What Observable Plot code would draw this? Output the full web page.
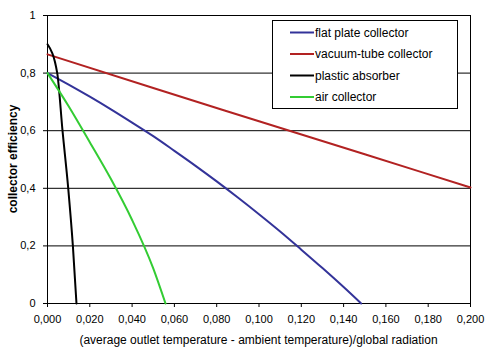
<!DOCTYPE html>
<html>
<head>
<meta charset="utf-8">
<script src="https://cdn.jsdelivr.net/npm/d3@7"></script>
<script src="https://cdn.jsdelivr.net/npm/@observablehq/plot@0.6"></script>
<style>
  html, body { margin: 0; padding: 0; background: #fff; }
  #chart { width: 493px; height: 359px; }
</style>
</head>
<body>
<div id="chart"></div>
<script>
// ---- data ----
const seriesNames = ["flat plate collector", "vacuum-tube collector", "plastic absorber", "air collector"];
const seriesColors = ["#333399", "#B22222", "#000000", "#33CC33"];

const flatX = [0, 0.01, 0.02, 0.03, 0.04, 0.05, 0.06, 0.07, 0.08, 0.09, 0.10, 0.11, 0.12, 0.13, 0.14, 0.1483];
const flatY = [0.800, 0.760, 0.718, 0.674, 0.628, 0.581, 0.530, 0.478, 0.424, 0.368, 0.310, 0.250, 0.187, 0.123, 0.057, 0.0];

const vacX = [0, 0.05, 0.10, 0.15, 0.2];
const vacY = [0.865, 0.748, 0.633, 0.518, 0.403];

const plasticX = [0, 0.0046, 0.0071, 0.0098, 0.0120, 0.0137];
const plasticY = [0.90, 0.80, 0.60, 0.40, 0.20, 0.0];

const airX = [0, 0.01, 0.02, 0.03, 0.04, 0.05, 0.0558];
const airY = [0.80, 0.685, 0.560, 0.432, 0.290, 0.122, 0.0];

const xTicks = [0, 0.02, 0.04, 0.06, 0.08, 0.10, 0.12, 0.14, 0.16, 0.18, 0.20];
const yTicks = [0, 0.2, 0.4, 0.6, 0.8, 1];

const xLabel = "(average outlet temperature - ambient temperature)/global radiation";
const yLabel = "collector efficiency";

// ---- build table ----
const rows = [];
[[flatX, flatY], [vacX, vacY], [plasticX, plasticY], [airX, airY]].forEach(([xs, ys], i) => {
  xs.forEach((x, j) => rows.push({series: seriesNames[i], x, y: ys[j]}));
});

const fmtX = d => d.toFixed(3).replace(".", ",");
const fmtY = d => (d === 0 ? "0" : d === 1 ? "1" : String(+d.toFixed(1)).replace(".", ","));

const font = "'Liberation Sans', Arial, sans-serif";
const W = 493, H = 359, mL = 47, mR = 23, mT = 15, mB = 56;

const chart = Plot.plot({
  width: W, height: H,
  marginLeft: mL, marginRight: mR, marginTop: mT, marginBottom: mB,
  style: {fontFamily: font, fontSize: "11px", color: "#000", background: "#fff", overflow: "visible"},
  x: {domain: [0, 0.2], label: null},
  y: {domain: [0, 1], label: null},
  color: {domain: seriesNames, range: seriesColors},
  marks: [
    Plot.ruleY(yTicks.slice(1), {stroke: "#000", strokeWidth: 1}),
    Plot.frame({stroke: "#000", strokeWidth: 1}),
    Plot.axisX({ticks: xTicks, tickFormat: fmtX, tickSize: 4, tickPadding: 8, label: null, stroke: "#000", fill: "#000"}),
    Plot.axisY({ticks: yTicks, tickFormat: fmtY, tickSize: 4, tickPadding: 8, label: null, stroke: "#000", fill: "#000"}),
    Plot.line(rows, {x: "x", y: "y", z: "series", stroke: "series", strokeWidth: 2, curve: "monotone-x"})
  ]
});

document.getElementById("chart").appendChild(chart);

// ---- axis titles and legend ----
const svg = d3.select(chart);
svg.append("text")
  .attr("x", (mL + W - mR) / 2).attr("y", 344)
  .attr("text-anchor", "middle")
  .attr("font-family", font).attr("font-size", 12).attr("fill", "#000")
  .text(xLabel);
svg.append("text")
  .attr("transform", `translate(17,${(mT + H - mB) / 2}) rotate(-90)`)
  .attr("text-anchor", "middle")
  .attr("font-family", font).attr("font-size", 12).attr("font-weight", "bold").attr("fill", "#000")
  .text(yLabel);

const lg = svg.append("g").attr("text-anchor", "start");
lg.append("rect").attr("x", 272.5).attr("y", 20.5).attr("width", 185).attr("height", 88)
  .attr("fill", "#fff").attr("stroke", "#000").attr("stroke-width", 1);
seriesNames.forEach((name, i) => {
  const yy = 32.5 + i * 21.5;
  lg.append("line").attr("x1", 290).attr("x2", 314).attr("y1", yy).attr("y2", yy)
    .attr("stroke", seriesColors[i]).attr("stroke-width", 2);
  lg.append("text").attr("x", 315).attr("y", yy).attr("dy", "0.35em")
    .attr("text-anchor", "start")
    .attr("font-family", font).attr("font-size", 12).attr("fill", "#000").text(name);
});
</script>
</body>
</html>
